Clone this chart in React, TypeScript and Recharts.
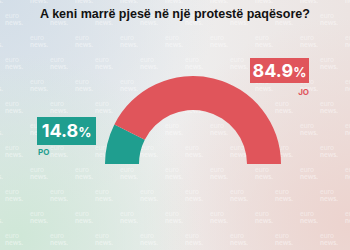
import { PieChart, Pie, Cell } from "recharts";

const answers = ["PO", "JO"];
const shares = [14.8, 84.9];
const colors = ["#1f9e8f", "#e0555b"];
const title = "A keni marrë pjesë në një protestë paqësore?";

const data = answers.map((name, i) => ({ name, value: shares[i] }));

// faint "euronews" pattern in the background
const Watermarks = () => {
  const marks = [];
  for (let r = 0; r < 12; r++) {
    for (let c = 0; c < 9; c++) {
      const x = c * 45 + (r % 2 === 1 ? 5 : 30) - 45;
      const y = r * 22 - 10;
      marks.push(
        <div
          key={`${r}-${c}`}
          style={{
            position: "absolute",
            left: x,
            top: y,
            fontSize: 7,
            lineHeight: "7px",
            color: "rgba(255,255,255,0.45)",
            fontFamily: "Lato, sans-serif",
          }}
        >
          euro
          <br />
          <b>news.</b>
        </div>
      );
    }
  }
  return <>{marks}</>;
};

export default function App() {
  return (
    <div
      style={{
        position: "absolute",
        top: 0,
        left: 0,
        width: 350,
        height: 250,
        overflow: "hidden",
        background:
          "radial-gradient(circle at 5% 95%, #cfe7d7 0%, rgba(207,231,215,0) 45%), radial-gradient(circle at 100% 90%, #ecd3ce 0%, rgba(236,211,206,0) 50%), radial-gradient(circle at 0% 0%, #d3dee8 0%, rgba(211,222,232,0) 50%), linear-gradient(90deg, #e3e8ec, #eeeeee 50%, #ece4e2)",
        fontFamily: "'Open Sans', sans-serif",
      }}
    >
      <Watermarks />
      <div
        style={{
          position: "absolute",
          top: 7,
          left: 0,
          width: 350,
          textAlign: "center",
          fontSize: 12.5,
          fontWeight: 700,
          color: "#111",
          fontFamily: "'Liberation Sans', Arial, sans-serif",
        }}
      >
        {title}
      </div>
      <div style={{ position: "absolute", top: 0, left: 0 }}>
        <PieChart width={350} height={250}>
          <Pie
            data={data}
            dataKey="value"
            cx={188}
            cy={159}
            startAngle={180}
            endAngle={0}
            innerRadius={54}
            outerRadius={88}
            stroke="none"
            isAnimationActive={false}
          >
            {data.map((d, i) => (
              <Cell key={d.name} fill={colors[i]} />
            ))}
          </Pie>
        </PieChart>
      </div>
      <div
        style={{
          position: "absolute",
          left: 37,
          top: 117,
          width: 59,
          height: 28,
          background: colors[0],
          color: "#fff",
          fontWeight: 700,
          fontSize: 18,
          lineHeight: "28px",
          textAlign: "center",
          fontFamily: "Inter, sans-serif",
        }}
      >
        {shares[0]}
        <span style={{ fontSize: 13 }}>%</span>
      </div>
      <div
        style={{
          position: "absolute",
          left: 38,
          top: 147,
          fontSize: 8,
          fontWeight: 700,
          color: colors[0],
          fontFamily: "Inter, sans-serif",
        }}
      >
        {answers[0]}
      </div>
      <div
        style={{
          position: "absolute",
          left: 250,
          top: 58,
          width: 59,
          height: 25,
          background: colors[1],
          color: "#fff",
          fontWeight: 700,
          fontSize: 18,
          lineHeight: "25px",
          textAlign: "center",
          fontFamily: "Inter, sans-serif",
        }}
      >
        {shares[1]}
        <span style={{ fontSize: 13 }}>%</span>
      </div>
      <div
        style={{
          position: "absolute",
          left: 250,
          width: 59,
          top: 87,
          fontSize: 8,
          fontWeight: 700,
          textAlign: "right",
          color: colors[1],
          fontFamily: "Inter, sans-serif",
        }}
      >
        {answers[1]}
      </div>
    </div>
  );
}
